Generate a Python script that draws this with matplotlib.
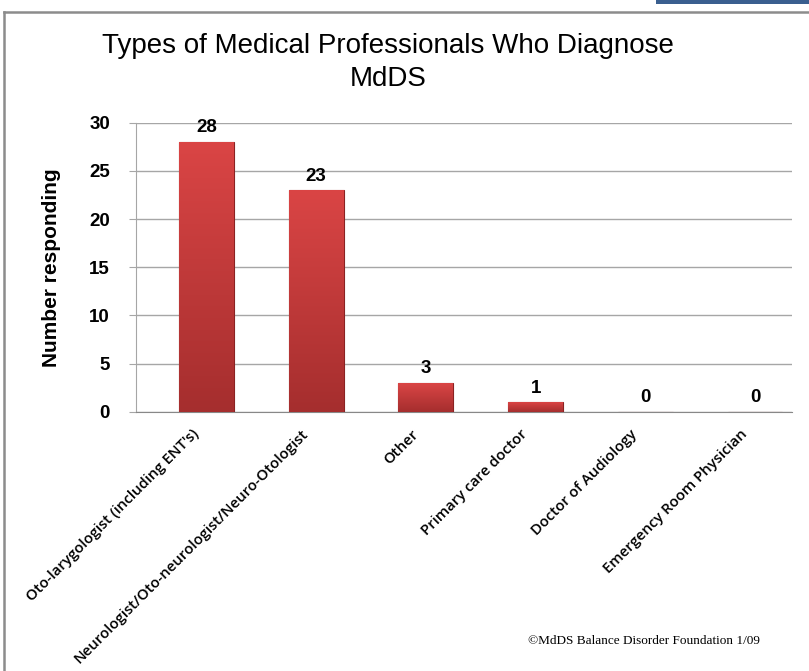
import matplotlib
matplotlib.use("Agg")
import matplotlib.pyplot as plt
import matplotlib.transforms as mtransforms
from matplotlib import font_manager
from matplotlib.colors import LinearSegmentedColormap
import numpy as np

categories = ["Oto-larygologist (including ENT's)",
              "Neurologist/Oto-neurologist/Neuro-Otologist",
              "Other",
              "Primary care doctor",
              "Doctor of Audiology",
              "Emergency Room Physician"]
values = [28, 23, 3, 1, 0, 0]
yticks = [0, 5, 10, 15, 20, 25, 30]
title = "Types of Medical Professionals Who Diagnose\nMdDS"
ylabel = "Number responding"
footnote = "\u00a9MdDS Balance Disorder Foundation 1/09"

names = {f.name for f in font_manager.fontManager.ttflist}
sans = "Liberation Sans" if "Liberation Sans" in names else "DejaVu Sans"
label_font = "Open Sans" if "Open Sans" in names else "DejaVu Sans"
serif = "Liberation Serif" if "Liberation Serif" in names else "DejaVu Serif"

W, H = 809, 671
fig = plt.figure(figsize=(W / 100, H / 100), dpi=100)
fig.patch.set_facecolor("white")

ax = fig.add_axes([135.7 / W, 1 - 411.7 / H, (792.3 - 135.7) / W, (411.7 - 122.7) / H])
x = np.arange(len(categories))
bars = ax.bar(x, values, width=0.5, color="#C93B3B", edgecolor="#8A2222", linewidth=0.8, zorder=3)

cmap = LinearSegmentedColormap.from_list("g", ["#A52E2E", "#DA4545"])
for b in bars:
    if b.get_height() <= 0:
        continue
    x0, y0 = b.get_x(), b.get_y()
    w, h = b.get_width(), b.get_height()
    im = ax.imshow(np.linspace(0, 1, 256).reshape(-1, 1), cmap=cmap, aspect="auto",
                   extent=[x0, x0 + w, y0, y0 + h], origin="lower", zorder=3.5)
    im.set_clip_path(b)

ax.set_xlim(-0.645, 5.34)
ax.set_ylim(0, 30)
ax.set_yticks(yticks)
ax.yaxis.grid(True, color="#A6A6A6", linewidth=1.0, zorder=0)
ax.set_axisbelow(True)
for s in ["top", "right"]:
    ax.spines[s].set_visible(False)
ax.spines["left"].set_color("#A6A6A6")
ax.spines["bottom"].set_color("#888888")
ax.tick_params(axis="y", length=5, color="#A6A6A6", pad=13.5)
ax.tick_params(axis="x", length=0, pad=11)
for t in ax.get_yticklabels():
    t.set_fontfamily(sans)
    t.set_fontweight("bold")
    t.set_fontsize(13.5)

ax.set_xticks(x)
ax.set_xticklabels(categories, rotation=45, ha="right", va="top", rotation_mode="anchor",
                   fontsize=10.7, fontfamily=label_font, fontweight="semibold")
offset = mtransforms.ScaledTranslation(-15 / 100, 0, fig.dpi_scale_trans)
for t in ax.get_xticklabels():
    t.set_transform(t.get_transform() + offset)

for b, v in zip(bars, values):
    ax.annotate(str(v), (b.get_x() + b.get_width() / 2, b.get_height()),
                xytext=(0, 4), textcoords="offset points", ha="center", va="bottom",
                fontsize=13.5, fontweight="bold", fontfamily=sans, zorder=5)

ax.set_ylabel(ylabel, fontsize=15, fontweight="bold", fontfamily=sans)
ax.yaxis.set_label_coords((61 - 135.7) / (792.3 - 135.7), 0.5)

fig.text(388 / W, 1 - 62.5 / H, title, ha="center", va="center", fontsize=20,
         fontfamily=sans, linespacing=1.38)

fig.text(760 / W, 1 - 641 / H, footnote, ha="right", va="center", fontsize=9.5, fontfamily=serif)

fig.add_artist(plt.Line2D([4 / W, 1], [1 - 12 / H, 1 - 12 / H], transform=fig.transFigure,
                          color="#8C8C8C", linewidth=1.8))
fig.add_artist(plt.Line2D([4 / W, 4 / W], [0, 1 - 12 / H], transform=fig.transFigure,
                          color="#8C8C8C", linewidth=1.8))
fig.add_artist(plt.Rectangle((656 / W, 1 - 4 / H), 1 - 656 / W, 4 / H, transform=fig.transFigure,
                             color="#3A5F8F", linewidth=0))

fig.savefig("out.png", dpi=100, facecolor="white")
